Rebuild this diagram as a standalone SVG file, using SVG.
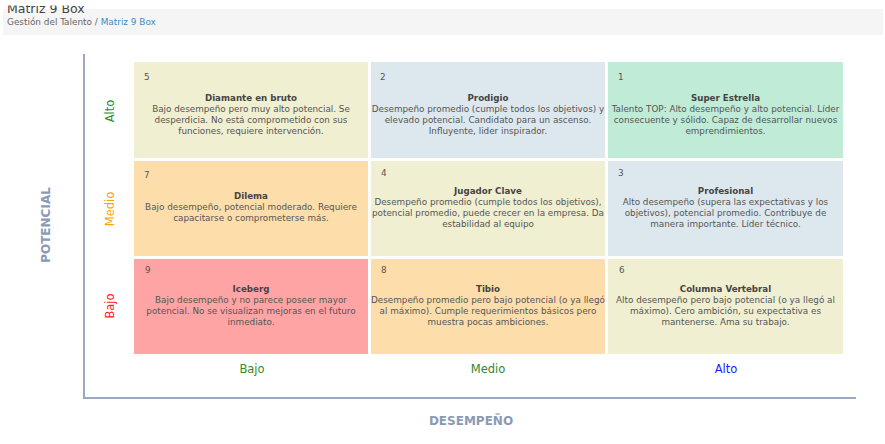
<svg xmlns="http://www.w3.org/2000/svg" width="885" height="444" viewBox="0 0 885 444">
<style>
.bg{fill:#ffffff}
.y{fill:#f0efd1}.b{fill:#dde8ee}.g{fill:#c0ebd7}.o{fill:#fddeab}.r{fill:#ffa4a4}
.num{font-family:"DejaVu Sans",Verdana,sans-serif;font-size:8.8px;fill:#555}
.tt{font-family:"DejaVu Sans",Verdana,sans-serif;font-size:8.7px;font-weight:bold;fill:#444;text-anchor:middle}
.tx{font-family:"DejaVu Sans",Verdana,sans-serif;font-size:8.8px;fill:#555;text-anchor:middle}
.ax{stroke:#9aa8c1;stroke-width:2;fill:none}
.axl{font-family:"DejaVu Sans",Verdana,sans-serif;font-size:12px;font-weight:bold;fill:#8a9ab5;text-anchor:middle}
.lv{font-family:"DejaVu Sans",Verdana,sans-serif;font-size:11.5px;text-anchor:middle}
</style>
<defs>
<clipPath id="hc"><rect x="0" y="5.5" width="885" height="40"/></clipPath>
</defs>
<rect class="bg" x="0" y="0" width="885" height="444"/>
<g id="header">
<rect x="3" y="9" width="880" height="26" fill="#f5f5f5"/>
<text x="7" y="12.5" clip-path="url(#hc)" font-family="DejaVu Sans,Verdana,sans-serif" font-size="12.5px" fill="#444">Matriz 9 Box</text>
<text x="7" y="25" font-family="DejaVu Sans,Verdana,sans-serif" font-size="8.9px" fill="#666">Gestión del Talento / <tspan fill="#3a8cc6">Matriz 9 Box</tspan></text>
</g>
<g id="connectors">
<path class="ax" d="M84,54 V398 H856"/>
</g>
<g id="axis-labels">
<text class="axl" transform="translate(50,225) rotate(-90)">POTENCIAL</text>
<text class="axl" x="471" y="425">DESEMPEÑO</text>
<text class="lv" fill="#2e8b2e" transform="translate(114,111) rotate(-90)">Alto</text>
<text class="lv" fill="#ffa500" transform="translate(114,209) rotate(-90)">Medio</text>
<text class="lv" fill="#ff2020" transform="translate(114,306) rotate(-90)">Bajo</text>
<text class="lv" fill="#2e8b2e" x="252" y="373">Bajo</text>
<text class="lv" fill="#2e8b2e" x="488" y="373">Medio</text>
<text class="lv" fill="#1a1aff" x="726" y="373">Alto</text>
</g>
<g id="box5">
<rect class="y" x="134" y="62" width="234" height="96"/>
<text class="num" x="144" y="80">5</text>
<text class="tt" x="251" y="101">Diamante en bruto</text>
<text class="tx" x="251" y="112">Bajo desempeño pero muy alto potencial. Se</text>
<text class="tx" x="251" y="123">desperdicia. No está comprometido con sus</text>
<text class="tx" x="251" y="134">funciones, requiere intervención.</text>
</g>
<g id="box2">
<rect class="b" x="371" y="62" width="234" height="96"/>
<text class="num" x="380" y="80">2</text>
<text class="tt" x="488" y="101">Prodigio</text>
<text class="tx" x="488" y="112">Desempeño promedio (cumple todos los objetivos) y</text>
<text class="tx" x="488" y="123">elevado potencial. Candidato para un ascenso.</text>
<text class="tx" x="488" y="134">Influyente, lider inspirador.</text>
</g>
<g id="box1">
<rect class="g" x="608" y="62" width="235" height="96"/>
<text class="num" x="618" y="80">1</text>
<text class="tt" x="725.5" y="101">Super Estrella</text>
<text class="tx" x="725.5" y="112">Talento TOP: Alto desempeño y alto potencial. Líder</text>
<text class="tx" x="725.5" y="123">consecuente y sólido. Capaz de desarrollar nuevos</text>
<text class="tx" x="725.5" y="134">emprendimientos.</text>
</g>
<g id="box7">
<rect class="o" x="134" y="161" width="234" height="95"/>
<text class="num" x="144" y="178">7</text>
<text class="tt" x="251" y="199">Dilema</text>
<text class="tx" x="251" y="210">Bajo desempeño, potencial moderado. Requiere</text>
<text class="tx" x="251" y="221">capacitarse o comprometerse más.</text>
</g>
<g id="box4">
<rect class="y" x="371" y="161" width="234" height="95"/>
<text class="num" x="381" y="176">4</text>
<text class="tt" x="488" y="194">Jugador Clave</text>
<text class="tx" x="488" y="205">Desempeño promedio (cumple todos los objetivos),</text>
<text class="tx" x="488" y="216">potencial promedio, puede crecer en la empresa. Da</text>
<text class="tx" x="488" y="227">estabilidad al equipo</text>
</g>
<g id="box3">
<rect class="b" x="608" y="161" width="235" height="95"/>
<text class="num" x="618" y="176">3</text>
<text class="tt" x="725.5" y="194">Profesional</text>
<text class="tx" x="725.5" y="205">Alto desempeño (supera las expectativas y los</text>
<text class="tx" x="725.5" y="216">objetivos), potencial promedio. Contribuye de</text>
<text class="tx" x="725.5" y="227">manera importante. Líder técnico.</text>
</g>
<g id="box9">
<rect class="r" x="134" y="259" width="234" height="95"/>
<text class="num" x="145" y="273">9</text>
<text class="tt" x="251" y="292">Iceberg</text>
<text class="tx" x="251" y="303">Bajo desempeño y no parece poseer mayor</text>
<text class="tx" x="251" y="314">potencial. No se visualizan mejoras en el futuro</text>
<text class="tx" x="251" y="325">inmediato.</text>
</g>
<g id="box8">
<rect class="o" x="371" y="259" width="234" height="95"/>
<text class="num" x="381" y="273">8</text>
<text class="tt" x="488" y="292">Tibio</text>
<text class="tx" x="488" y="303">Desempeño promedio pero bajo potencial (o ya llegó</text>
<text class="tx" x="488" y="314">al máximo). Cumple requerimientos básicos pero</text>
<text class="tx" x="488" y="325">muestra pocas ambiciones.</text>
</g>
<g id="box6">
<rect class="y" x="608" y="259" width="235" height="95"/>
<text class="num" x="619" y="273">6</text>
<text class="tt" x="725.5" y="292">Columna Vertebral</text>
<text class="tx" x="725.5" y="303">Alto desempeño pero bajo potencial (o ya llegó al</text>
<text class="tx" x="725.5" y="314">máximo). Cero ambición, su expectativa es</text>
<text class="tx" x="725.5" y="325">mantenerse. Ama su trabajo.</text>
</g>
</svg>
